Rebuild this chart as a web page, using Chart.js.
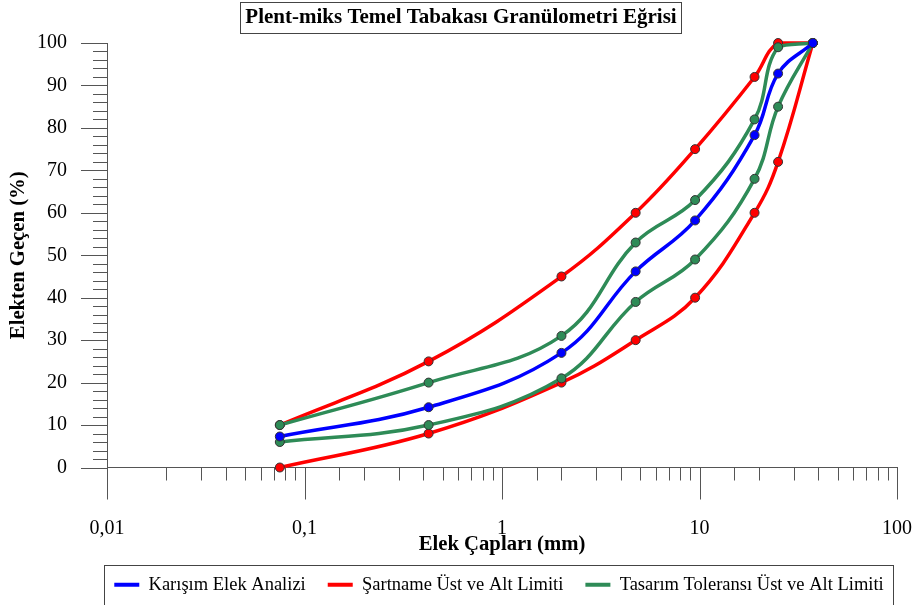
<!DOCTYPE html>
<html>
<head>
<meta charset="utf-8">
<script src="https://cdn.jsdelivr.net/npm/chart.js@4"></script>
<style>
  body { margin: 0; background: #fff; }
  #wrap { width: 915px; height: 605px; }
</style>
</head>
<body>
<div id="wrap"><canvas id="myChart"></canvas></div>
<script>
// define constants
const FONT_FAMILY = "'Liberation Serif', 'Times New Roman', serif";
const AXIS_COLOR = "#555555";
const COLOR_MIX = "#0000ff";
const COLOR_SPEC = "#ff0000";
const COLOR_TOL = "#2e8b57";
const TITLE_TEXT = "Plent-miks Temel Tabakası Granülometri Eğrisi";
const TITLE_FONT_SIZE = 21;
const HIDDEN = "rgba(0,0,0,0)";

// data
const sieveSizes = [0.075, 0.425, 2, 4.75, 9.5, 19, 25, 37.5];
const mixValues = [7.3, 14.2, 27.0, 46.2, 58.2, 78.3, 92.8, 100];
const specUpper = [10, 25, 45, 60, 75, 92, 100, 100];
const specLower = [0, 8, 20, 30, 40, 60, 72, 100];
const tolUpper = [10, 20, 31, 53, 63, 82, 99, 100];
const tolLower = [6, 10, 21, 39, 49, 68, 85, 100];
const xMajorValues = [0.01, 0.1, 1, 10, 100];
const xMajorLabels = ["0,01", "0,1", "1", "10", "100"];
const yMajorLabels = [0, 10, 20, 30, 40, 50, 60, 70, 80, 90, 100];

Chart.defaults.font.family = FONT_FAMILY;
Chart.defaults.color = "#000";

function toPoints(values) {
  return values.map((v, i) => ({ x: sieveSizes[i], y: v }));
}

function majorIndex(v) {
  return xMajorValues.findIndex(m => Math.abs(Math.log10(v) - Math.log10(m)) < 1e-6);
}

function makeDataset(label, values, color, order) {
  return {
    label: label,
    data: toPoints(values),
    borderColor: color,
    backgroundColor: color,
    borderWidth: 3.5,
    pointRadius: 4.5,
    pointBackgroundColor: color,
    pointBorderColor: "#333333",
    pointBorderWidth: 1,
    tension: 0.4,
    clip: 10,
    order: order,
  };
}

// re-centre title and legend the way the original sheet has them
const placeBlocks = {
  id: 'placeBlocks',
  afterLayout(chart) {
    chart.titleBlock.left = 25;
    const lg = chart.legend;
    const pad = lg.options.labels.padding;
    const contentWidth = lg.lineWidths[0] - pad;
    const mid = (chart.chartArea.left + chart.chartArea.right) / 2 - 3;
    lg.left = mid - contentWidth / 2 - pad;
    lg.right = chart.width;
  }
};

// draws the long/short tick marks outside the plot area, and the frames
const tickMarks = {
  id: 'tickMarks',
  afterDraw(chart) {
    const ctx = chart.ctx;
    const xs = chart.scales.x, ys = chart.scales.y;
    ctx.save();
    ctx.strokeStyle = AXIS_COLOR;
    ctx.lineWidth = 1;
    ctx.beginPath();
    xs.ticks.forEach(t => {
      const px = Math.round(xs.getPixelForValue(t.value)) + 0.5;
      const len = majorIndex(t.value) >= 0 ? 32 : 13;
      ctx.moveTo(px, ys.bottom);
      ctx.lineTo(px, ys.bottom + len);
    });
    ys.ticks.forEach(t => {
      const py = Math.round(ys.getPixelForValue(t.value)) + 0.5;
      const len = yMajorLabels.includes(t.value) ? 26 : 14;
      ctx.moveTo(xs.left - len, py);
      ctx.lineTo(xs.left, py);
    });
    ctx.stroke();

    // frame round the title
    const tb = chart.titleBlock;
    ctx.font = "bold " + TITLE_FONT_SIZE + "px " + FONT_FAMILY;
    const w = ctx.measureText(TITLE_TEXT).width;
    const cx = (tb.left + tb.right) / 2;
    ctx.strokeStyle = "#444";
    ctx.strokeRect(Math.round(cx - w / 2 - 5) + 0.5, 2.5, Math.round(w + 10), 31);

    // frame round the legend
    const boxes = chart.legend.legendHitBoxes;
    if (boxes.length) {
      const left = Math.min(...boxes.map(b => b.left)) - 10;
      const right = Math.max(...boxes.map(b => b.left + b.width)) + 10;
      const cy = boxes[0].top + boxes[0].height / 2;
      ctx.strokeRect(Math.round(left) + 0.5, Math.round(cy - 20) + 0.5, Math.round(right - left), 40);
    }
    ctx.restore();
  }
};

const ctx = document.getElementById("myChart").getContext("2d");
const chart = new Chart(ctx, {
  type: 'line',
  data: {
    datasets: [
      makeDataset("Karışım Elek Analizi", mixValues, COLOR_MIX, 0),
      makeDataset("Şartname Üst ve Alt Limiti", specUpper, COLOR_SPEC, 2),
      makeDataset("Şartname Alt Limiti", specLower, COLOR_SPEC, 2),
      makeDataset("Tasarım Toleransı Üst ve Alt Limiti", tolUpper, COLOR_TOL, 1),
      makeDataset("Tasarım Toleransı Alt Limiti", tolLower, COLOR_TOL, 1),
    ]
  },
  plugins: [placeBlocks, tickMarks],
  options: {
    responsive: true,
    maintainAspectRatio: false,
    animation: false,
    layout: { padding: { left: 0, right: 18, top: 0, bottom: 1 } },
    scales: {
      x: {
        type: 'logarithmic',
        min: 0.01,
        max: 100,
        // tick marks are drawn by the plugin; the invisible ticks only make room for the labels
        grid: { display: true, drawOnChartArea: false, drawTicks: true, tickLength: 46, tickColor: HIDDEN },
        border: { display: true, color: AXIS_COLOR, width: 1 },
        ticks: {
          autoSkip: false,
          maxRotation: 0,
          padding: 3,
          font: { size: 20 },
          callback: function (val) {
            const i = majorIndex(val);
            return i >= 0 ? xMajorLabels[i] : '';
          },
        },
        title: {
          display: true,
          text: "Elek Çapları (mm)",
          font: { size: 20.7, weight: 'bold' },
          padding: { top: 0, bottom: -3.4 },
        },
        afterFit(scale) { scale.height = 86; },
      },
      y: {
        min: 0,
        max: 100,
        grid: { display: true, drawOnChartArea: false, drawTicks: true, tickLength: 37, tickColor: HIDDEN },
        border: { display: true, color: AXIS_COLOR, width: 1 },
        ticks: {
          stepSize: 2,
          autoSkip: false,
          padding: 3,
          font: { size: 20 },
          callback: function (val) {
            return yMajorLabels.includes(val) ? String(val) : '';
          },
        },
        title: {
          display: true,
          text: "Elekten Geçen (%)",
          font: { size: 20.7, weight: 'bold' },
          padding: { top: 6.4, bottom: 0 },
        },
        afterFit(scale) { scale.width = 107; },
      },
    },
    plugins: {
      title: {
        display: true,
        text: TITLE_TEXT,
        font: { size: TITLE_FONT_SIZE, weight: 'bold' },
        padding: { top: 5.4, bottom: 12.4 },
      },
      legend: {
        display: true,
        position: 'bottom',
        align: 'start',
        fullSize: true,
        labels: {
          usePointStyle: true,
          pointStyle: 'line',
          pointStyleWidth: 25,
          boxHeight: 18,
          padding: 22,
          font: { size: 18.5 },
          filter: (item) => [0, 1, 3].includes(item.datasetIndex),
          sort: (a, b) => a.datasetIndex - b.datasetIndex,
          generateLabels(chart) {
            const items = Chart.defaults.plugins.legend.labels.generateLabels(chart);
            items.forEach(it => {
              it.strokeStyle = chart.data.datasets[it.datasetIndex].borderColor;
              it.lineWidth = 4;
              it.pointStyle = 'line';
            });
            return items;
          },
        },
      },
      tooltip: { enabled: false },
    },
  },
});
</script>
</body>
</html>
